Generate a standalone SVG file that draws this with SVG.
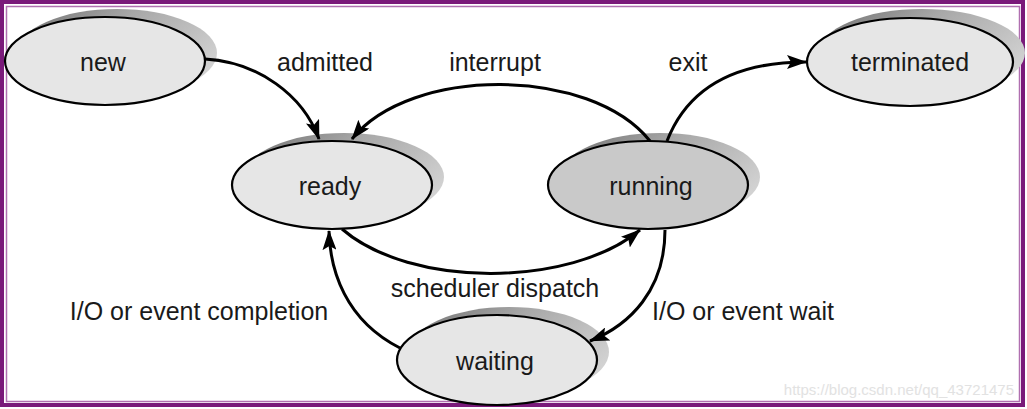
<svg xmlns="http://www.w3.org/2000/svg" width="1027" height="409" viewBox="0 0 1027 409">
<style>
.node{stroke:#000;stroke-width:2.2}
.lt{fill:#e6e6e6}
.dk{fill:#c9c9c9}
.sh{fill:url(#shg)}
.t{font-family:"Liberation Sans",Arial,sans-serif;font-size:25px;fill:#1a1a1a;text-anchor:middle}
.e{fill:none;stroke:#000;stroke-width:3}
</style>
<defs>
<linearGradient id="shg" x1="0" y1="0" x2="1" y2="0.6">
<stop offset="0" stop-color="#6e6e6e"/>
<stop offset="0.45" stop-color="#a8a8a8"/>
<stop offset="1" stop-color="#d2d2d2"/>
</linearGradient>
<marker id="a" viewBox="0 0 20 14" refX="19" refY="7" markerWidth="20" markerHeight="14" markerUnits="userSpaceOnUse" orient="auto">
<path d="M0,0 L20,7 L0,14 L4,7 z" fill="#000"/>
</marker>
</defs>
<rect x="0" y="0" width="1027" height="409" fill="#fff"/>
<rect x="2" y="2" width="1021" height="403" fill="none" stroke="#7a1a7a" stroke-width="4"/>
<rect x="6.5" y="6.5" width="1013" height="395" fill="none" stroke="#b070b0" stroke-width="1.5"/>
<text x="1014" y="395" font-family="Liberation Sans,Arial,sans-serif" font-size="15" fill="#e2e2e2" text-anchor="end">https://blog.csdn.net/qq_43721475</text>

<g id="new">
<ellipse class="sh" cx="117" cy="53" rx="100" ry="44"/>
<ellipse class="node lt" cx="105" cy="61" rx="100" ry="44"/>
<text class="t" x="103" y="71">new</text>
</g>
<g id="terminated">
<ellipse class="sh" cx="922" cy="53" rx="103" ry="44"/>
<ellipse class="node lt" cx="910" cy="62" rx="103" ry="44"/>
<text class="t" x="910" y="71">terminated</text>
</g>
<g id="ready">
<ellipse class="sh" cx="344" cy="177" rx="100" ry="44"/>
<ellipse class="node lt" cx="332" cy="185" rx="100" ry="44"/>
<text class="t" x="330" y="195">ready</text>
</g>
<g id="running">
<ellipse class="sh" cx="660" cy="177" rx="100" ry="44"/>
<ellipse class="node dk" cx="648" cy="185" rx="100" ry="44"/>
<text class="t" x="651" y="195">running</text>
</g>
<g id="waiting">
<ellipse class="sh" cx="509" cy="352" rx="100" ry="45"/>
<ellipse class="node lt" cx="497" cy="360" rx="100" ry="45"/>
<text class="t" x="495" y="370">waiting</text>
</g>

<g id="connectors">
<path class="e" d="M205,59 C258,62 303,95 319,139" marker-end="url(#a)"/>
<path class="e" d="M650,141 C590,66 410,66 352,139" marker-end="url(#a)"/>
<path class="e" d="M667,141 C685,95 725,62 806,62" marker-end="url(#a)"/>
<path class="e" d="M342,229 C410,288 570,288 640,230" marker-end="url(#a)"/>
<path class="e" d="M665,230 C665,290 630,325 590,341" marker-end="url(#a)"/>
<path class="e" d="M400,348 C345,320 330,270 329,231" marker-end="url(#a)"/>
</g>

<g id="labels">
<text class="t" x="325" y="71">admitted</text>
<text class="t" x="495" y="71">interrupt</text>
<text class="t" x="688" y="71">exit</text>
<text class="t" x="495" y="297">scheduler dispatch</text>
<text class="t" x="199" y="320">I/O or event completion</text>
<text class="t" x="743" y="320">I/O or event wait</text>
</g>
</svg>
